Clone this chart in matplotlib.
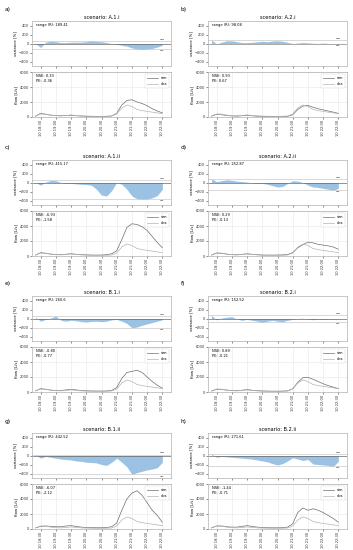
import pandas as pd
import matplotlib
matplotlib.use("Agg")
import matplotlib.pyplot as plt
import matplotlib.dates as mdates

# time stamps (10 min steps, 18:20 .. 22:30)
TIMES = pd.date_range("2020-07-10 18:20", "2020-07-10 22:30", freq="10min")

OBS = [150, 400, 380, 250, 180, 150, 200, 280, 200, 150, 120, 100, 90,
       90, 100, 130, 400, 1200, 1600, 1400, 1000, 850, 750, 650, 550, 450]

PANELS = ["a)", "b)", "c)", "d)", "e)", "f)", "g)", "h)"]
SCENARIOS = ["A.1.i", "A.2.i", "A.1.ii", "A.2.ii", "B.1.i", "B.2.i", "B.1.ii", "B.2.ii"]
RANGES = ["189.41", "98.08", "415.17", "252.87", "260.6", "152.52", "442.52", "271.61"]
NSE = ["0.33", "0.93", "-6.93", "0.29", "-0.80", "0.89", "-6.07", "-1.44"]
PE = ["-0.36", "0.67", "-1.58", "-0.13", "-0.77", "-0.21", "-2.12", "-0.71"]

SIM_A1I = [100, 500, 350, 250, 180, 170, 200, 230, 170, 130, 100, 90, 80,
           80, 90, 130, 500, 1600, 2200, 2300, 2000, 1800, 1500, 1100, 800, 550]
SIM_A2I = [110, 350, 300, 200, 140, 120, 170, 230, 160, 110, 80, 70, 65,
           60, 60, 90, 300, 1000, 1450, 1550, 1300, 1100, 950, 800, 650, 480]
SIM_A1II = [120, 450, 350, 250, 200, 180, 230, 300, 230, 180, 150, 130, 120,
            130, 180, 300, 700, 2200, 3800, 4300, 4200, 3900, 3400, 2600, 1800, 1100]
SIM_A2II = [120, 400, 350, 250, 180, 160, 220, 300, 230, 170, 130, 120, 120,
            130, 150, 200, 450, 1100, 1500, 1850, 1750, 1550, 1450, 1350, 1200, 900]
SIM_B1I = [150, 450, 350, 250, 200, 200, 280, 350, 280, 200, 160, 140, 130,
           130, 140, 200, 600, 1800, 2600, 2750, 2900, 2600, 2000, 1400, 900, 500]
SIM_B2I = [120, 350, 330, 250, 190, 170, 230, 330, 230, 180, 140, 120, 110,
           110, 120, 160, 420, 1300, 1900, 1950, 1700, 1400, 1100, 850, 650, 450]
SIM_B1II = [150, 350, 400, 350, 300, 300, 400, 450, 350, 250, 200, 180, 170,
            170, 200, 300, 800, 2500, 4000, 4800, 5100, 4500, 3500, 2500, 1800, 900]
SIM_B2II = [150, 400, 400, 300, 250, 250, 350, 450, 350, 250, 200, 170, 160,
            160, 180, 250, 700, 2200, 2800, 2500, 2700, 2500, 2200, 1800, 1400, 900]

VAR_A1I = [0, -90, 30, 50, 40, 20, 20, 30, 30, 30, 40, 59, 45,
           40, 20, 0, -20, -40, -60, -100, -120, -130, -125, -110, -80, -40]
VAR_A2I = [80, -10, 30, 60, 60, 40, 20, 20, 25, 40, 50, 40, 55,
           60, 50, 25, 0, 10, 20, 15, 5, 0, 10, 0, -10, -18]
VAR_A1II = [0, -60, 10, 45, 40, 0, -20, -20, -30, -40, -45, -60, -150,
            -280, -300, -180, 0, -40, -150, -300, -360, -370, -365, -340, -290, -150]
VAR_A2II = [80, 20, 40, 60, 50, 30, 20, 10, -10, -20, -20, -40, -70,
            -100, -90, -20, 40, 30, 0, -60, -100, -110, -130, -150, -170, -130]
VAR_B1I = [30, -60, -20, 10, 55, -40, -60, -40, -50, -70, -80, -65, -60,
           -70, -60, -30, -20, -60, -110, -205, -190, -150, -120, -90, -60, -30]
VAR_B2I = [70, -30, 10, 30, 40, -10, -40, -20, -40, -60, -82, -60, -40,
           -60, -70, -40, -20, 0, 5, -10, -30, -10, -20, -10, -10, -5]
VAR_B1II = [20, -60, -20, -40, -60, -80, -90, -100, -120, -130, -150, -155, -165,
            -200, -220, -150, -60, -150, -250, -422, -380, -350, -320, -300, -270, -150]
VAR_B2II = [30, -40, -20, -30, -40, -50, -60, -70, -80, -100, -120, -140, -180,
            -210, -180, -120, -50, -80, -110, -90, -190, -200, -210, -220, -240, -130]

SIMS = [SIM_A1I, SIM_A2I, SIM_A1II, SIM_A2II, SIM_B1I, SIM_B2I, SIM_B1II, SIM_B2II]
VARS = [VAR_A1I, VAR_A2I, VAR_A1II, VAR_A2II, VAR_B1I, VAR_B2I, VAR_B1II, VAR_B2II]

W, H = 353, 550
COL_X = [32, 208]
ROW_Y = [0, 139, 275, 412]
AX_W = 139
AX_H = 45

FS = 3.0
EDGE = "#b0b0b0"


def px_axes(fig, x, y, w, h):
    return fig.add_axes([x / W, 1 - (y + h) / H, w / W, h / H])


def style(ax):
    for s in ax.spines.values():
        s.set_color(EDGE)
        s.set_linewidth(0.5)
    ax.tick_params(labelsize=2.6, length=1.2, width=0.4, pad=1, colors="#333333")


def main():
    fig = plt.figure(figsize=(W / 100, H / 100), dpi=100)
    xmin = pd.Timestamp("2020-07-10 18:13")
    xmax = pd.Timestamp("2020-07-10 22:47")
    ticks = pd.date_range("2020-07-10 18:30", "2020-07-10 22:30", freq="30min")

    for i in range(8):
        r, c = divmod(i, 2)
        x0 = COL_X[c]
        y0 = ROW_Y[r]
        var = VARS[i]
        sim = SIMS[i]

        fig.text((x0 - 27) / W, 1 - (y0 + 9) / H, PANELS[i], fontsize=4.2,
                 va="center", ha="left")

        # variance panel
        ax1 = px_axes(fig, x0, y0 + 21, AX_W, AX_H)
        style(ax1)
        ax1.fill_between(TIMES, 0, var, color="#3a87c8", alpha=0.5, lw=0)
        ax1.axhline(0, color="#666666", lw=0.5)
        vmax, vmin = max(var), min(var)
        ax1.axhline(vmax, color="#bbbbbb", lw=0.4)
        ax1.axhline(vmin, color="#bbbbbb", lw=0.4)
        ax1.text(TIMES[-1], vmax + 25, "max", fontsize=1.6, ha="center", va="bottom")
        ax1.text(TIMES[-1], vmin - 25, "min", fontsize=1.6, ha="center", va="top")
        ax1.set_ylim(-500, 500)
        ax1.set_yticks([-400, -200, 0, 200, 400])
        ax1.set_xlim(xmin, xmax)
        ax1.set_xticks(ticks)
        ax1.set_xticklabels([])
        ax1.set_ylabel("variance [%]", fontsize=2.8, labelpad=1)
        ax1.set_title("scenario: " + SCENARIOS[i], fontsize=FS + 0.6, pad=1.5)
        ax1.text(0.03, 0.95, "range (R): " + RANGES[i], transform=ax1.transAxes,
                 fontsize=2.6, va="top", ha="left")

        # flow panel
        ax2 = px_axes(fig, x0, y0 + 72, AX_W, AX_H)
        style(ax2)
        ax2.grid(True, color="#e6e6e6", lw=0.4)
        ax2.set_axisbelow(True)
        ax2.plot(TIMES, sim, color="#6e6e6e", lw=0.5, label="sim")
        ax2.plot(TIMES, OBS, color="#b4b4b4", lw=0.5, label="obs")
        ax2.set_ylim(0, 6000)
        ax2.set_yticks([0, 2000, 4000, 6000])
        ax2.set_xlim(xmin, xmax)
        ax2.set_xticks(ticks)
        ax2.xaxis.set_major_formatter(mdates.DateFormatter("%d %H:%M"))
        for lab in ax2.get_xticklabels():
            lab.set_rotation(90)
        ax2.set_ylabel("flow [L/s]", fontsize=2.8, labelpad=1)
        ax2.text(0.03, 0.95, "NSE: " + NSE[i] + "\nPE: " + PE[i],
                 transform=ax2.transAxes, fontsize=2.6, va="top", ha="left",
                 linespacing=1.1)
        leg = ax2.legend(loc="upper right", fontsize=2.6, frameon=True,
                         handlelength=3, borderpad=0.6, labelspacing=0.6)
        leg.get_frame().set_linewidth(0.3)
        leg.get_frame().set_edgecolor("#cccccc")

    fig.savefig("out.png", dpi=100)


if __name__ == "__main__":
    main()
